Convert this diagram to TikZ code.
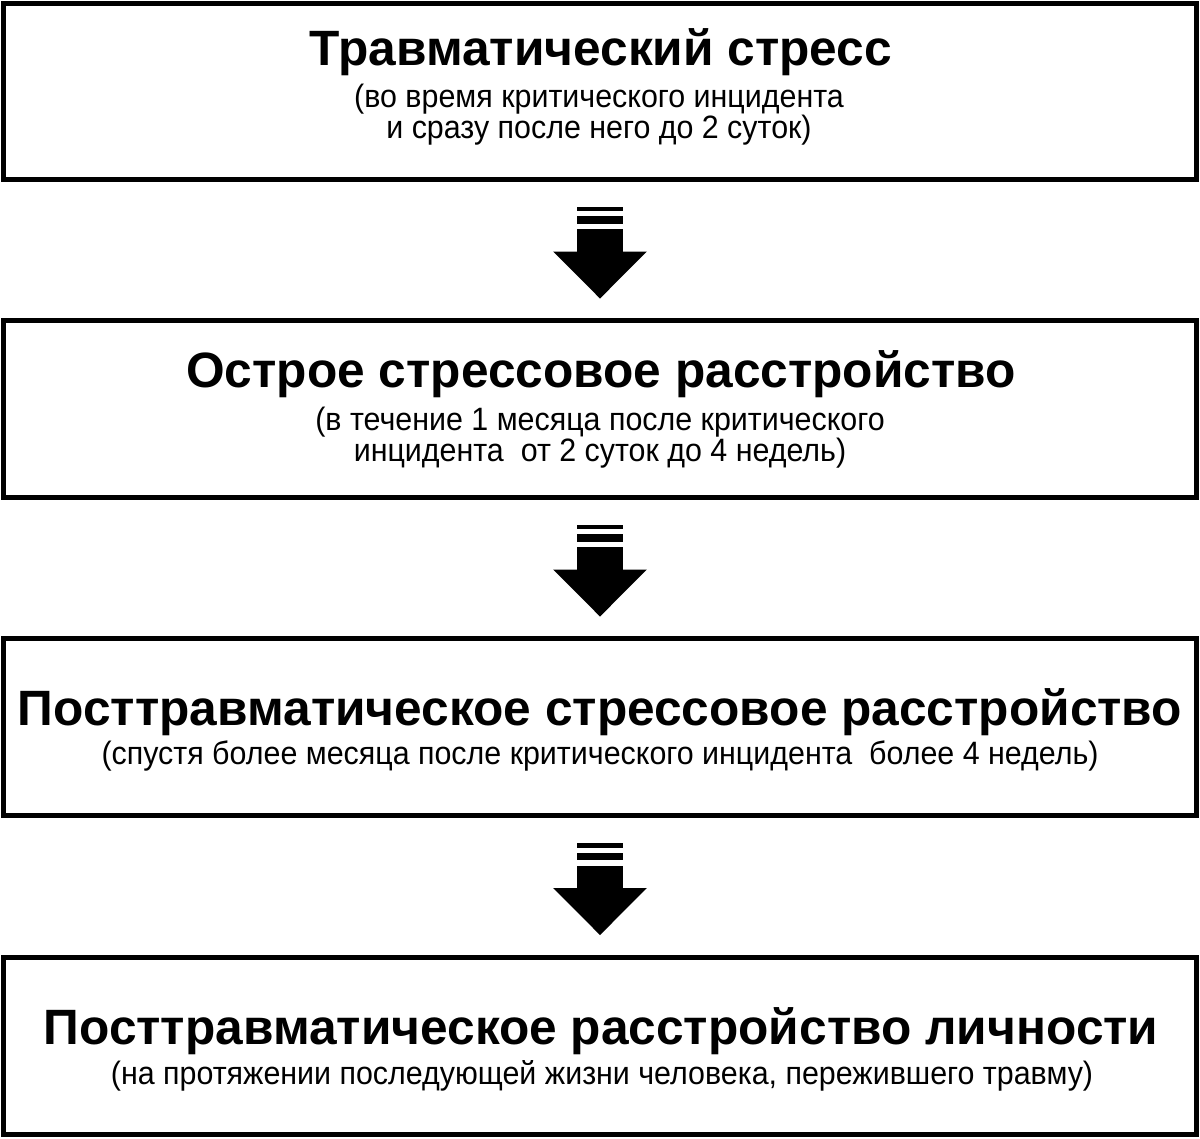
\documentclass[tikz,border=0pt]{standalone}
\usepackage{fontspec}
\setmainfont{Liberation Sans}
\newfontfamily\notefont[FakeStretch=0.94]{Liberation Sans}
\usetikzlibrary{calc}

\begin{document}
\begin{tikzpicture}[x=0.025cm,y=-0.025cm,
    stage/.style={draw,line width=0.125cm,outer sep=0pt,minimum width=29.8125cm},
    title/.style={anchor=base,font=\bfseries\fontsize{35.3}{40}\selectfont},
    note/.style={anchor=base,font=\notefont\fontsize{23}{23}\selectfont}]
    \useasboundingbox (0,0) rectangle (1200,1138);
    % boxes
    \node[stage,minimum height=4.3875cm] (s1) at (600,91.25) {};
    \node[stage,minimum height=4.4125cm] (s2) at (600,408.75) {};
    \node[stage,minimum height=4.4125cm] (s3) at (600,727.25) {};
    \node[stage,minimum height=4.425cm] (s4) at (600,1046) {};
    % texts
    \node[title] (t1) at (601,65) {Травматический стресс};
    \node[note] (n1a) at (599,107) {(во время критического инцидента};
    \node[note] (n1b) at (599,138) {и сразу после него до 2 суток)};
    \node[title] (t2) at (601,387) {Острое стрессовое расстройство};
    \node[note] (n2a) at (600,430) {(в течение 1 месяца после критического};
    \node[note] (n2b) at (600,461) {инцидента\ \ от 2 суток до 4 недель)};
    \node[title] (t3) at (600,725) {Посттравматическое стрессовое расстройство};
    \node[note] (n3) at (600,764) {(спустя более месяца после критического инцидента\ \ более 4 недель)};
    \node[title] (t4) at (601,1044) {Посттравматическое расстройство личности};
    \node[note] (n4) at (602,1084) {(на протяжении последующей жизни человека, пережившего травму)};
    % arrows
    \foreach \a in {s1,s2,s3} {
        \begin{scope}[shift={(\a.south)}]
            \fill (-23.3,27.5) rectangle (23.3,32);
            \fill (-23.3,37) rectangle (23.3,44.8);
            \fill (-23.3,50) rectangle (23.3,73);
            \fill (-46.8,72.5) -- (46.8,72.5) -- (0,119.5) -- cycle;
        \end{scope}
    }
\end{tikzpicture}
\end{document}
